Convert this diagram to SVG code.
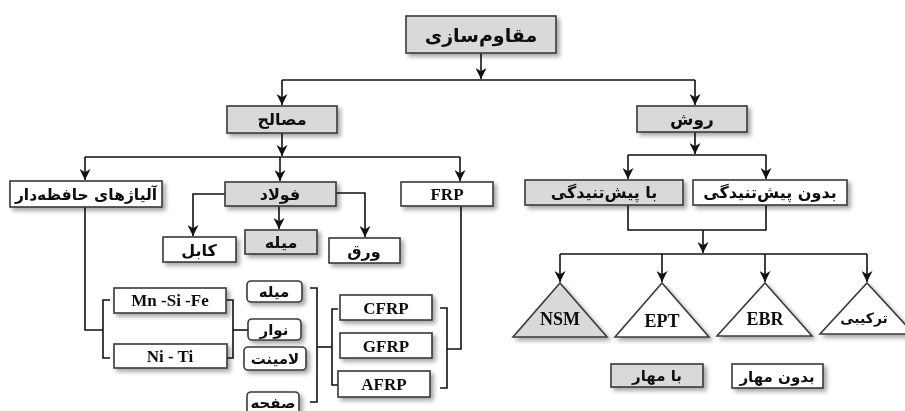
<svg xmlns="http://www.w3.org/2000/svg" width="905" height="411" viewBox="0 0 905 411">
<style>
.box{stroke:#3a3a3a;stroke-width:1.6}
.g{fill:#d9d9d9}
.w{fill:#ffffff}
.fa{font-family:"DejaVu Sans",sans-serif;font-weight:bold;font-size:15px;fill:#111;text-anchor:middle}
.la{font-family:"Liberation Serif",serif;font-weight:bold;font-size:17px;fill:#111;text-anchor:middle}
.ln{fill:none;stroke:#111;stroke-width:1.6}
</style>
<defs>
<filter id="sh" x="-20%" y="-30%" width="150%" height="180%">
<feGaussianBlur in="SourceAlpha" stdDeviation="2"/>
<feOffset dx="3" dy="3" result="b"/>
<feFlood flood-color="#000" flood-opacity="0.35"/>
<feComposite in2="b" operator="in"/>
<feMerge><feMergeNode/><feMergeNode in="SourceGraphic"/></feMerge>
</filter>
<marker id="ar" viewBox="0 0 10 10" refX="10" refY="5" markerWidth="11" markerHeight="11" orient="auto" markerUnits="userSpaceOnUse">
<path d="M0,0 L10,5 L0,10 L3,5 Z" fill="#111"/>
</marker>
</defs>

<g id="connectors">
<path class="ln" d="M481,53 V79" marker-end="url(#ar)"/>
<path class="ln" d="M282,80 H695"/>
<path class="ln" d="M282,80 V105" marker-end="url(#ar)"/>
<path class="ln" d="M695,80 V105" marker-end="url(#ar)"/>
<path class="ln" d="M282,133 V156" marker-end="url(#ar)"/>
<path class="ln" d="M85,157 H460"/>
<path class="ln" d="M85,157 V180" marker-end="url(#ar)"/>
<path class="ln" d="M280,157 V181" marker-end="url(#ar)"/>
<path class="ln" d="M460,157 V181" marker-end="url(#ar)"/>
<path class="ln" d="M225,194 H193 V236" marker-end="url(#ar)"/>
<path class="ln" d="M279,206 V229" marker-end="url(#ar)"/>
<path class="ln" d="M336,193 H365 V237" marker-end="url(#ar)"/>
<path class="ln" d="M85,207 V330 H103"/>
<path class="ln" d="M110,300 H103 V358 H110"/>
<path class="ln" d="M226,300 H233 V358 H226"/>
<path class="ln" d="M233,330 H248"/>
<path class="ln" d="M310,288 H317 V402 H310"/>
<path class="ln" d="M317,347 H332"/>
<path class="ln" d="M338,309 H332 V385 H338"/>
<path class="ln" d="M440,308 H447 V388 H440"/>
<path class="ln" d="M447,349 H461 V206"/>
<path class="ln" d="M695,132 V154" marker-end="url(#ar)"/>
<path class="ln" d="M628,155 H766"/>
<path class="ln" d="M628,155 V179" marker-end="url(#ar)"/>
<path class="ln" d="M766,155 V179" marker-end="url(#ar)"/>
<path class="ln" d="M628,205 V230 H766 V205"/>
<path class="ln" d="M703,230 V253" marker-end="url(#ar)"/>
<path class="ln" d="M560,254 H867"/>
<path class="ln" d="M560,254 V282" marker-end="url(#ar)"/>
<path class="ln" d="M662,254 V282" marker-end="url(#ar)"/>
<path class="ln" d="M765,254 V282" marker-end="url(#ar)"/>
<path class="ln" d="M867,254 V282" marker-end="url(#ar)"/>
</g>

<g id="n-moqavemsazi" filter="url(#sh)">
<rect class="box g" x="406" y="16" width="150" height="37"/>
<text class="fa" x="481" y="42" style="font-size:19px">مقاوم&#x200C;سازی</text>
</g>
<g id="n-masaleh" filter="url(#sh)">
<rect class="box g" x="227" y="106" width="110" height="27"/>
<text class="fa" x="282" y="125" style="font-size:16px">مصالح</text>
</g>
<g id="n-ravesh" filter="url(#sh)">
<rect class="box g" x="637" y="106" width="110" height="26"/>
<text class="fa" x="692" y="125" style="font-size:17px">روش</text>
</g>
<g id="n-alloy" filter="url(#sh)">
<rect class="box w" x="10" y="181" width="152" height="26"/>
<text class="fa" x="86" y="200" style="font-size:15.5px">آلیاژهای حافظه&#x200C;دار</text>
</g>
<g id="n-foulad" filter="url(#sh)">
<rect class="box g" x="225" y="182" width="111" height="24"/>
<text class="fa" x="280" y="200" style="font-size:16px">فولاد</text>
</g>
<g id="n-frp" filter="url(#sh)">
<rect class="box w" x="401" y="182" width="92" height="24"/>
<text class="la" x="447" y="200">FRP</text>
</g>
<g id="n-kabl" filter="url(#sh)">
<rect class="box w" x="163" y="237" width="73" height="25"/>
<text class="fa" x="199" y="256" style="font-size:16px">کابل</text>
</g>
<g id="n-mile" filter="url(#sh)">
<rect class="box g" x="245" y="230" width="72" height="24"/>
<text class="fa" x="281" y="248" style="font-size:16px">میله</text>
</g>
<g id="n-varagh" filter="url(#sh)">
<rect class="box w" x="329" y="238" width="71" height="25"/>
<text class="fa" x="364" y="257" style="font-size:16px">ورق</text>
</g>
<g id="n-mnsife" filter="url(#sh)">
<rect class="box w" x="114" y="288" width="112" height="25"/>
<text class="la" x="170" y="306">Mn -Si -Fe</text>
</g>
<g id="n-niti" filter="url(#sh)">
<rect class="box w" x="114" y="344" width="113" height="24"/>
<text class="la" x="170" y="362">Ni - Ti</text>
</g>
<g id="n-mile2" filter="url(#sh)">
<rect class="box w" x="247" y="281" width="55" height="21" rx="4"/>
<text class="fa" x="274" y="297">میله</text>
</g>
<g id="n-navar" filter="url(#sh)">
<rect class="box w" x="248" y="319" width="53" height="21" rx="4"/>
<text class="fa" x="274" y="335">نوار</text>
</g>
<g id="n-laminet" filter="url(#sh)">
<rect class="box w" x="244" y="347" width="62" height="23" rx="4"/>
<text class="fa" x="275" y="364">لامینت</text>
</g>
<g id="n-safhe" filter="url(#sh)">
<rect class="box w" x="247" y="392" width="52" height="24" rx="4"/>
<text class="fa" x="273" y="408">صفحه</text>
</g>
<g id="n-cfrp" filter="url(#sh)">
<rect class="box w" x="340" y="295" width="92" height="25"/>
<text class="la" x="386" y="314">CFRP</text>
</g>
<g id="n-gfrp" filter="url(#sh)">
<rect class="box w" x="340" y="333" width="92" height="25"/>
<text class="la" x="386" y="352">GFRP</text>
</g>
<g id="n-afrp" filter="url(#sh)">
<rect class="box w" x="338" y="371" width="92" height="26"/>
<text class="la" x="384" y="390">AFRP</text>
</g>
<g id="n-ba-pish" filter="url(#sh)">
<rect class="box g" x="525" y="180" width="158" height="25"/>
<text class="fa" x="604" y="198" style="font-size:16px">با پیش&#x200C;تنیدگی</text>
</g>
<g id="n-bedun-pish" filter="url(#sh)">
<rect class="box w" x="693" y="180" width="154" height="25"/>
<text class="fa" x="770" y="198" style="font-size:16px">بدون پیش&#x200C;تنیدگی</text>
</g>
<g id="n-nsm" filter="url(#sh)">
<polygon class="box g" points="560,283 607,337 513,337"/>
<text class="la" x="560" y="325" style="font-size:18px">NSM</text>
</g>
<g id="n-ept" filter="url(#sh)">
<polygon class="box w" points="662,283 709,337 615,337"/>
<text class="la" x="662" y="327" style="font-size:18px">EPT</text>
</g>
<g id="n-ebr" filter="url(#sh)">
<polygon class="box w" points="765,283 812,336 717,336"/>
<text class="la" x="765" y="325" style="font-size:18px">EBR</text>
</g>
<g id="n-tarkibi" filter="url(#sh)">
<polygon class="box w" points="867,283 914,334 820,334"/>
<text class="fa" x="864" y="323" style="font-size:14px">ترکیبی</text>
</g>
<g id="n-ba-mahar" filter="url(#sh)">
<rect class="box g" x="611" y="364" width="92" height="23"/>
<text class="fa" x="657" y="381">با مهار</text>
</g>
<g id="n-bedun-mahar" filter="url(#sh)">
<rect class="box w" x="732" y="364" width="91" height="24"/>
<text class="fa" x="777" y="382">بدون مهار</text>
</g>
</svg>
